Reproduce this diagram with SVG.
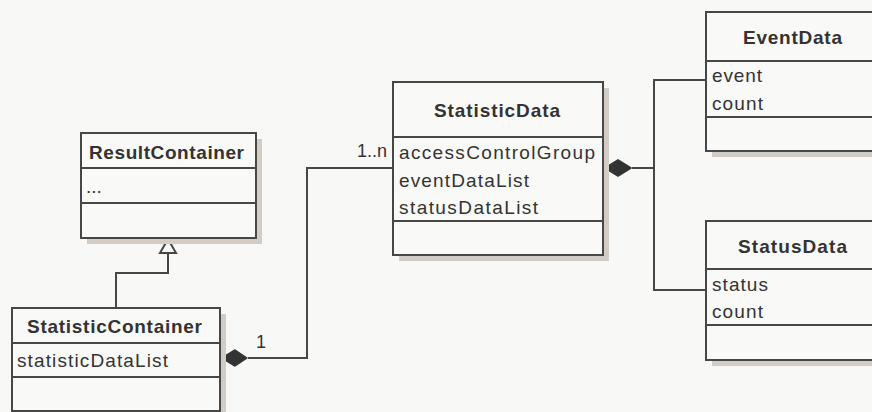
<svg xmlns="http://www.w3.org/2000/svg" width="872" height="412" viewBox="0 0 872 412">
  <style>
    .bg { fill: #f8f8f6; }
    .shadow { fill: #d3ccc5; }
    .box { fill: #f9f9f7; stroke: #474747; stroke-width: 2; }
    .div { stroke: #474747; stroke-width: 2; fill: none; }
    .edge { stroke: #474747; stroke-width: 2; fill: none; }
    .title { font-family: "Liberation Sans", Arial, sans-serif; font-weight: bold; font-size: 19px; fill: #333; text-anchor: middle; }
    .attr { font-family: "Liberation Sans", Arial, sans-serif; font-size: 19px; fill: #333; }
    .mult { font-family: "Liberation Sans", Arial, sans-serif; font-size: 18px; fill: #333; }
    .diamond { fill: #333; stroke: #333; stroke-width: 1.5; stroke-linejoin: round; }
    .hollow { fill: #f8f8f6; stroke: #474747; stroke-width: 2; }
  </style>

  <rect class="bg" x="0" y="0" width="872" height="412"/>

  <!-- connectors -->
  <g id="connectors">
    <!-- generalization: StatisticContainer -> ResultContainer -->
    <polyline class="edge" points="116,308 116,273 168,273 168,253"/>
    <polygon class="hollow" points="168,239 160,253 176,253"/>
    <!-- composition: StatisticContainer owns StatisticData -->
    <polyline class="edge" points="248,358 307,358 307,168 393,168"/>
    <polygon class="diamond" points="222,358 235,350 247,358 235,366"/>
    <text class="mult" x="256" y="348">1</text>
    <text class="mult" x="387" y="157" text-anchor="end">1..n</text>
    <!-- composition: StatisticData owns EventData / StatusData -->
    <polyline class="edge" points="632,168 654,168"/>
    <polyline class="edge" points="706,80 654,80 654,290 706,290"/>
    <polygon class="diamond" points="605,168 618,160 631,168 618,176"/>
  </g>

  <!-- ResultContainer -->
  <g id="ResultContainer">
    <rect class="shadow" x="87" y="139" width="175" height="105"/>
    <rect class="box" x="81" y="133" width="175" height="105"/>
    <line class="div" x1="81" y1="168" x2="256" y2="168"/>
    <line class="div" x1="81" y1="203" x2="256" y2="203"/>
    <text class="title" x="166.5" y="159" textLength="155" lengthAdjust="spacing">ResultContainer</text>
    <text class="attr" x="86" y="193" font-size="13" fill="#666">...</text>
  </g>

  <!-- StatisticContainer -->
  <g id="StatisticContainer">
    <rect class="shadow" x="18" y="314" width="208" height="103"/>
    <rect class="box" x="12" y="308" width="208" height="103"/>
    <line class="div" x1="12" y1="343" x2="220" y2="343"/>
    <line class="div" x1="12" y1="377" x2="220" y2="377"/>
    <text class="title" x="114.5" y="333" textLength="175" lengthAdjust="spacing">StatisticContainer</text>
    <text class="attr" x="17" y="367" textLength="151" lengthAdjust="spacing">statisticDataList</text>
  </g>

  <!-- StatisticData -->
  <g id="StatisticData">
    <rect class="shadow" x="399" y="88" width="210" height="173"/>
    <rect class="box" x="393" y="82" width="210" height="173"/>
    <line class="div" x1="393" y1="137" x2="603" y2="137"/>
    <line class="div" x1="393" y1="221" x2="603" y2="221"/>
    <text class="title" x="497" y="117" textLength="126" lengthAdjust="spacing">StatisticData</text>
    <text class="attr" x="399" y="159" textLength="196" lengthAdjust="spacing">accessControlGroup</text>
    <text class="attr" x="399" y="187" textLength="130" lengthAdjust="spacing">eventDataList</text>
    <text class="attr" x="399" y="214" textLength="139" lengthAdjust="spacing">statusDataList</text>
  </g>

  <!-- EventData -->
  <g id="EventData">
    <rect class="shadow" x="712" y="18" width="174" height="139"/>
    <rect class="box" x="706" y="12" width="174" height="139"/>
    <line class="div" x1="706" y1="61" x2="880" y2="61"/>
    <line class="div" x1="706" y1="117" x2="880" y2="117"/>
    <text class="title" x="792.5" y="44" textLength="99" lengthAdjust="spacing">EventData</text>
    <text class="attr" x="712" y="82" textLength="50" lengthAdjust="spacing">event</text>
    <text class="attr" x="712" y="110" textLength="51" lengthAdjust="spacing">count</text>
  </g>

  <!-- StatusData -->
  <g id="StatusData">
    <rect class="shadow" x="712" y="227" width="174" height="139"/>
    <rect class="box" x="706" y="221" width="174" height="139"/>
    <line class="div" x1="706" y1="269" x2="880" y2="269"/>
    <line class="div" x1="706" y1="325" x2="880" y2="325"/>
    <text class="title" x="792.5" y="253" textLength="109" lengthAdjust="spacing">StatusData</text>
    <text class="attr" x="712" y="291" textLength="56" lengthAdjust="spacing">status</text>
    <text class="attr" x="712" y="318" textLength="51" lengthAdjust="spacing">count</text>
  </g>
</svg>
